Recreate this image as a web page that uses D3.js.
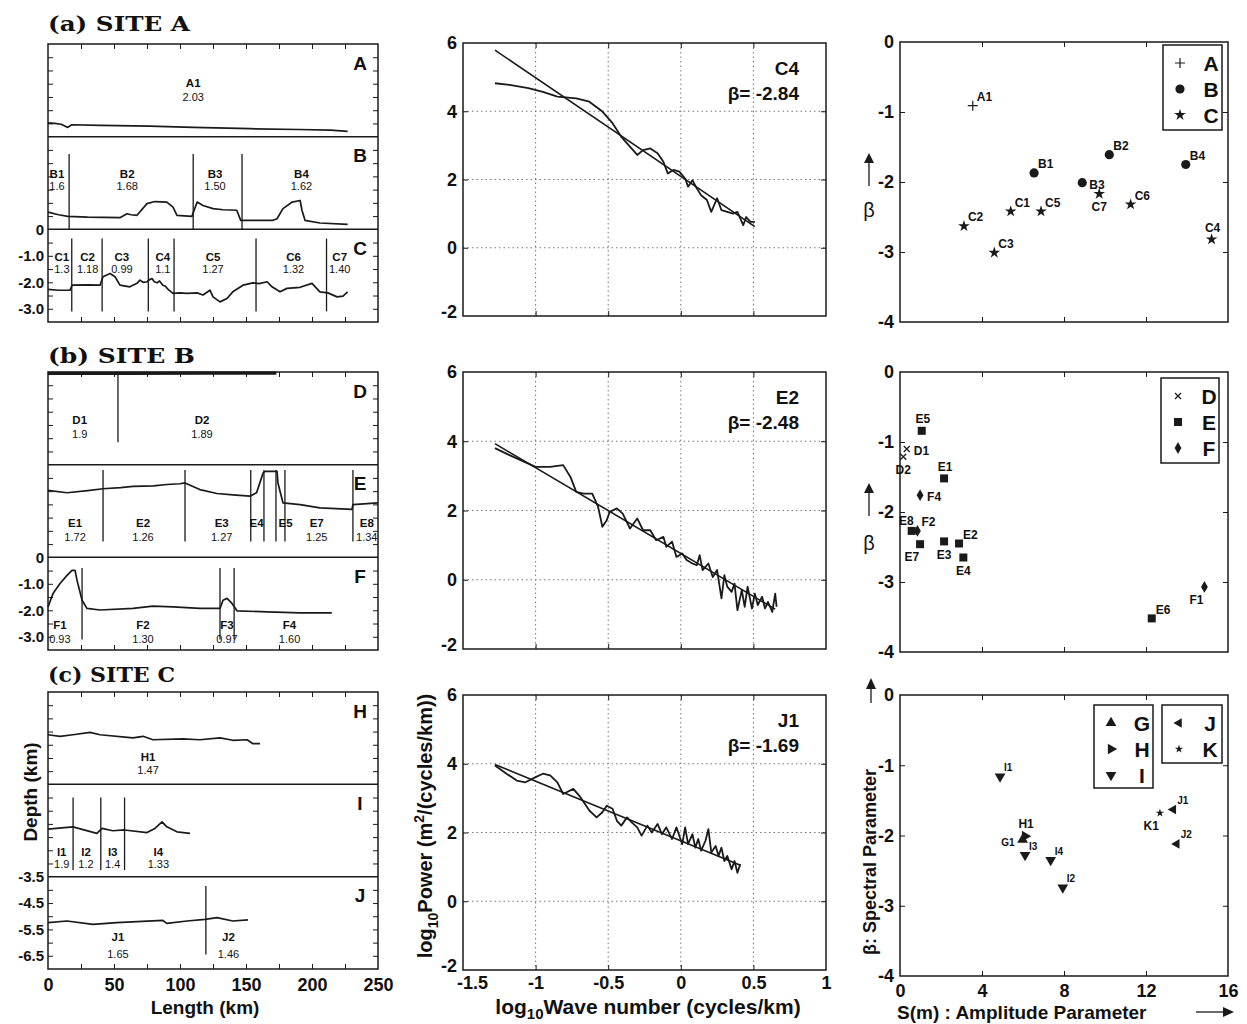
<!DOCTYPE html>
<html>
<head>
<meta charset="utf-8">
<script src="https://d3js.org/d3.v7.min.js"></script>
<style>
  body { margin: 0; background: #fff; }
  svg { display: block; }
  text { font-family: "Liberation Sans", Arial, sans-serif; fill: #111; }
</style>
</head>
<body>
<svg id="fig" width="1247" height="1024"></svg>
<script>
// ---------- depth profiles: [length km, depth km] ----------
const profA = [[0,-2.98],[5,-3.0],[10,-3.03],[15,-3.15],[18,-3.05],[40,-3.07],[77,-3.10],[110,-3.15],[153,-3.20],[190,-3.23],[214,-3.25],[227,-3.30]];
const profB = [[0,-2.85],[8,-2.95],[15,-3.01],[30,-3.04],[54.5,-3.06],[59.8,-2.91],[63,-2.95],[67.4,-2.97],[75,-2.53],[81,-2.45],[90,-2.47],[94.7,-2.66],[97.7,-2.97],[109,-3.01],[113,-2.47],[117.4,-2.60],[125,-2.72],[132.6,-2.76],[143,-2.78],[146,-3.16],[170.5,-3.16],[173.5,-3.10],[178,-2.72],[185,-2.47],[191,-2.41],[192.4,-2.78],[194.7,-3.16],[206,-3.26],[227,-3.31]];
const profC = [[0,-2.27],[8,-2.30],[16.7,-2.30],[18.2,-2.11],[30,-2.10],[39.4,-2.11],[41.7,-1.79],[47,-1.67],[50.8,-1.79],[54.5,-2.11],[62,-2.17],[67.4,-2.04],[69.7,-1.92],[72,-2.0],[75,-1.98],[77,-1.90],[78.8,-1.86],[80.5,-1.98],[82.6,-2.02],[84.5,-1.95],[87,-2.11],[89,-2.15],[91,-2.27],[94.7,-2.42],[100,-2.40],[105.3,-2.42],[113,-2.40],[117.4,-2.48],[122.7,-2.30],[125,-2.55],[130.3,-2.74],[135.6,-2.61],[140,-2.36],[147.7,-2.11],[155.3,-2.02],[160,-2.05],[166,-1.98],[169.7,-2.17],[175.8,-2.36],[181,-2.23],[191,-2.19],[200,-2.04],[206,-2.36],[212,-2.40],[219,-2.55],[223.5,-2.52],[227,-2.36]];
const profD = [[0,-0.05],[60,-0.05],[120,-0.04],[173,-0.04]];
const profE = [[0,-0.97],[14.4,-1.06],[30,-0.98],[41.7,-0.91],[55,-0.87],[64.4,-0.82],[80,-0.80],[90,-0.75],[100,-0.72],[103.8,-0.69],[115,-0.94],[128,-1.09],[140,-1.14],[153,-1.19],[158,-1.06],[163,-0.31],[164.4,-0.25],[173.5,-0.25],[174.2,-0.69],[178,-1.44],[191,-1.51],[206,-1.63],[230.3,-1.69],[231,-1.51],[250,-1.44]];
const profF = [[0,-1.87],[3.8,-1.37],[9.1,-0.99],[14.4,-0.68],[18.2,-0.49],[20.5,-0.49],[22,-0.87],[25.8,-1.62],[29.5,-1.93],[39.4,-1.99],[64.4,-1.93],[79.5,-1.84],[94.7,-1.87],[115,-1.93],[130.3,-1.93],[132.6,-1.62],[135.6,-1.55],[139.4,-1.74],[143.2,-2.02],[166,-2.06],[191,-2.10],[215,-2.10]];
const profH = [[0,-1.62],[9.1,-1.68],[18.9,-1.62],[31.8,-1.53],[39.4,-1.62],[64.4,-1.74],[72,-1.68],[79.5,-1.81],[102,-1.78],[115,-1.81],[130.3,-1.74],[140,-1.83],[150.8,-1.81],[155.3,-1.96],[160.6,-1.96]];
const profI = [[0,-1.70],[18.9,-1.61],[37,-1.86],[41,-1.67],[49,-1.76],[58,-1.73],[75,-1.83],[81,-1.67],[86.4,-1.42],[90,-1.61],[97.7,-1.80],[107.6,-1.86]];
const profJ = [[0,-5.24],[14.4,-5.18],[34,-5.31],[52,-5.24],[87,-5.16],[90,-5.27],[105.3,-5.18],[119,-5.12],[128,-5.05],[140,-5.18],[151.5,-5.14]];

// ---------- segments: boundaries (km), label names, label centres (km), values ----------
const segA_bounds = [];                        const segA_names = ['A1'];
const segA_at = [110];                         const segA_vals = ['2.03'];
const segB_bounds = [16, 110, 147];            const segB_names = ['B1','B2','B3','B4'];
const segB_at = [6.8, 60, 126.5, 192];         const segB_vals = ['1.6','1.68','1.50','1.62'];
const segC_bounds = [18, 41, 76, 95.5, 157.6, 211];
const segC_names = ['C1','C2','C3','C4','C5','C6','C7'];
const segC_at = [10.5, 30, 56, 87, 125, 186, 221];
const segC_vals = ['1.3','1.18','0.99','1.1','1.27','1.32','1.40'];
const segD_bounds = [53];                      const segD_names = ['D1','D2'];
const segD_at = [24, 116.7];                   const segD_vals = ['1.9','1.89'];
const segE_bounds = [41.7, 103.8, 153.6, 163.6, 172.7, 179.5, 231];
const segE_names = ['E1','E2','E3','E4','E5','E7','E8'];
const segE_at = [20.5, 72, 131.6, 158, 180, 203.6, 241.5];
const segE_vals = ['1.72','1.26','1.27','','','1.25','1.34'];
const segF_bounds = [25.8, 130.3, 141];        const segF_names = ['F1','F2','F3','F4'];
const segF_at = [9, 72, 135.6, 183];           const segF_vals = ['0.93','1.30','0.97','1.60'];
const segH_bounds = [];                        const segH_names = ['H1'];
const segH_at = [75.8];                        const segH_vals = ['1.47'];
const segI_bounds = [19, 40, 58];              const segI_names = ['I1','I2','I3','I4'];
const segI_at = [10.4, 28.8, 49, 83.6];        const segI_vals = ['1.9','1.2','1.4','1.33'];
const segJ_bounds = [119.6];                   const segJ_names = ['J1','J2'];
const segJ_at = [53, 136.7];                   const segJ_vals = ['1.65','1.46'];

const lengthTicks = [0, 50, 100, 150, 200, 250];
const depthTicksAB = [0, -1, -2, -3];
const depthTicksC = [-3.5, -4.5, -5.5, -6.5];

// ---------- power spectra: log10 wave number, log10 power ----------
const spec1_k = [-1.28,-1.18,-1.05,-0.95,-0.85,-0.72,-0.63,-0.54,-0.47,-0.41,-0.37,-0.30,-0.26,-0.21,-0.16,-0.12,-0.09,-0.05,-0.01,0.03,0.05,0.08,0.11,0.14,0.18,0.21,0.25,0.28,0.32,0.36,0.39,0.43,0.45,0.48,0.51];
const spec1_p = [4.82,4.77,4.68,4.57,4.43,4.38,4.28,3.99,3.65,3.25,3.06,2.72,2.86,2.91,2.77,2.52,2.18,2.28,2.23,2.03,1.79,1.98,1.74,1.54,1.40,1.05,1.45,1.10,1.05,1.00,1.05,0.66,0.90,0.76,0.76];
const fit1_k = [-1.28, 0.51];  const fit1_p = [5.79, 0.62];

const spec2_k = [-1.28,-1.18,-1.0,-0.90,-0.81,-0.76,-0.72,-0.67,-0.61,-0.57,-0.54,-0.51,-0.49,-0.44,-0.40,-0.35,-0.30,-0.26,-0.21,-0.17,-0.12,-0.10,-0.06,-0.03,0.01,0.04,0.08,0.11,0.13,0.15,0.19,0.22,0.25,0.28,0.30,0.32,0.35,0.37,0.39,0.42,0.44,0.46,0.49,0.51,0.53,0.56,0.58,0.60,0.63,0.65,0.66];
const spec2_p = [3.80,3.60,3.26,3.26,3.31,2.97,2.54,2.49,2.49,2.11,1.53,1.72,1.96,2.06,1.91,1.48,1.77,1.43,1.43,1.14,1.24,0.95,1.10,0.66,0.76,0.57,0.47,0.42,0.71,0.28,0.47,0.08,0.28,-0.54,0.13,-0.20,-0.35,-0.11,-0.88,-0.30,-0.78,-0.20,-0.83,-0.40,-0.73,-0.49,-0.83,-0.64,-0.93,-0.40,-0.78];
const fit2_k = [-1.28, 0.65];  const fit2_p = [3.93, -0.85];

const spec3_k = [-1.28,-1.20,-1.13,-1.07,-1.00,-0.95,-0.90,-0.85,-0.81,-0.74,-0.69,-0.63,-0.58,-0.54,-0.51,-0.47,-0.44,-0.41,-0.37,-0.34,-0.30,-0.27,-0.23,-0.20,-0.16,-0.13,-0.10,-0.06,-0.03,0.01,0.03,0.05,0.08,0.10,0.12,0.14,0.17,0.19,0.21,0.24,0.26,0.28,0.30,0.32,0.35,0.37,0.39,0.41];
const spec3_p = [3.95,3.71,3.51,3.46,3.61,3.71,3.66,3.46,3.12,3.27,3.02,2.64,2.44,2.59,2.78,2.69,2.34,2.20,2.44,2.30,2.15,1.91,2.20,2.00,2.25,1.95,2.15,1.81,2.15,1.66,2.15,1.66,1.95,1.56,1.81,1.47,1.76,2.10,1.42,1.61,1.32,1.56,1.17,1.32,0.93,1.17,0.83,1.08];
const fit3_k = [-1.28, 0.41];  const fit3_p = [3.98, 1.05];

const waveTicks = [-1.5, -1, -0.5, 0, 0.5, 1];
const powerTicks = [-2, 0, 2, 4, 6];

// ---------- amplitude parameter S (m) vs spectral parameter beta ----------
const sc1_names = ['A1','B1','B2','B3','B4','C1','C2','C3','C4','C5','C6','C7'];
const sc1_S     = [3.55, 6.54, 10.21, 8.89, 13.94, 5.40, 3.12, 4.60, 15.2, 6.88, 11.25, 9.72];
const sc1_beta  = [-0.91, -1.87, -1.61, -2.01, -1.75, -2.42, -2.63, -3.01, -2.82, -2.42, -2.32, -2.17];
const sc2_names = ['E5','D1','D2','E1','F4','E8','F2','E7','E3','E2','E4','E6','F1'];
const sc2_S     = [1.06, 0.33, 0.16, 2.15, 0.98, 0.57, 0.85, 0.98, 2.15, 2.88, 3.09, 12.28, 14.85];
const sc2_beta  = [-0.84, -1.10, -1.21, -1.52, -1.76, -2.27, -2.27, -2.46, -2.42, -2.45, -2.65, -3.52, -3.07];
const sc3_names = ['I1','H1','G1','I3','I4','I2','K1','J1','J2'];
const sc3_S     = [4.88, 6.1, 5.98, 6.1, 7.35, 7.94, 12.68, 13.33, 13.5];
const sc3_beta  = [-1.16, -2.01, -2.06, -2.28, -2.35, -2.74, -1.68, -1.63, -2.12];
const sTicks = [0, 4, 8, 12, 16];
const betaTicks = [0, -1, -2, -3, -4];

// label placement codes (layout only)
const sc1_place = ['ne','ne','ne','e','ne','ne','ne','ne','n','ne','ne','s'];
const sc2_place = ['n','e','s','n','e','nw','ne','sw','s','ne','s','ne','sw'];
const sc3_place = ['ne','n','w','ne','ne','ne','sw','ne','ne'];

// ======================================================================
const svg = d3.select('#fig');
const INK = '#1a1a1a';
const BOLD = 'bold';

function styleAxisText(g, size) {
  g.select('.domain').remove();
  g.selectAll('text')
    .attr('font-size', size)
    .attr('font-weight', BOLD)
    .attr('fill', '#111');
}
function innerTicks(g) {
  g.select('.domain').remove();
  g.selectAll('line').attr('stroke', INK).attr('stroke-width', 1);
}

// ---------------- left column: depth profiles ----------------
const xKm = d3.scaleLinear().domain([0, 250]).range([48, 378]);

const sub = (letter, prof, bounds, names, at, vals, dom, nameY, valY, lineTop, lineBot) =>
  ({ letter, prof, bounds, names, at, vals, dom, nameY, valY, lineTop, lineBot });

const leftCfg = [
  { top: 44, bottom: 322, title: '(a)  SITE A', tw: 142, ty: 31, ticks: depthTicksAB,
    subs: [sub('A', profA, segA_bounds, segA_names, segA_at, segA_vals, [0, -3.5], 39, 53, -0.5, -3.5),
           sub('B', profB, segB_bounds, segB_names, segB_at, segB_vals, [0, -3.5], 37, 49, -0.65, -3.5),
           sub('C', profC, segC_bounds, segC_names, segC_at, segC_vals, [0, -3.5], 28, 40, -0.35, -3.1)] },
  { top: 372, bottom: 650, title: '(b)  SITE B', tw: 147, ty: 363, ticks: depthTicksAB,
    subs: [sub('D', profD, segD_bounds, segD_names, segD_at, segD_vals, [0, -3.5], 48, 62, 0, -2.65),
           sub('E', profE, segE_bounds, segE_names, segE_at, segE_vals, [0, -3.5], 58, 72, -0.2, -2.9),
           sub('F', profF, segF_bounds, segF_names, segF_at, segF_vals, [0, -3.5], 68, 82, -0.4, -3.1)] },
  { top: 692, bottom: 969, title: '(c)  SITE C', tw: 127, ty: 682, ticks: depthTicksC, xAxis: true,
    subs: [sub('H', profH, segH_bounds, segH_names, segH_at, segH_vals, [0, -3.5], 65, 78, 0, 0),
           sub('I', profI, segI_bounds, segI_names, segI_at, segI_vals, [0, -3.5], 68, 80, -0.5, -3.25),
           sub('J', profJ, segJ_bounds, segJ_names, segJ_at, segJ_vals, [-3.5, -7.0], 60, 77, -3.85, -6.45)] }
];

leftCfg.forEach(p => {
  svg.append('text').attr('x', 48).attr('y', p.ty)
    .style('font-family', '"DejaVu Serif", "Liberation Serif", serif')
    .attr('font-weight', 'bold').attr('font-size', 21)
    .attr('textLength', p.tw).attr('lengthAdjust', 'spacingAndGlyphs')
    .text(p.title);

  const h = (p.bottom - p.top) / 3;
  p.subs.forEach((s, i) => {
    const t = p.top + i * h, b = t + h;
    const y = d3.scaleLinear().domain(s.dom).range([t, b]);
    const g = svg.append('g');
    const minor = d3.range(1, 7).map(j => s.dom[0] - 0.5 * j);

    g.append('g').attr('transform', `translate(${xKm.range()[0]},0)`)
      .call(d3.axisLeft(y).tickValues(minor).tickSize(-5).tickFormat('')).call(innerTicks);
    g.append('g').attr('transform', `translate(${xKm.range()[1]},0)`)
      .call(d3.axisRight(y).tickValues(minor).tickSize(-5).tickFormat('')).call(innerTicks);

    // profile
    g.append('path').datum(s.prof)
      .attr('d', d3.line().x(d => xKm(d[0])).y(d => y(d[1])))
      .attr('fill', 'none').attr('stroke', INK)
      .attr('stroke-width', s.letter === 'D' ? 3.2 : 1.7).attr('stroke-linejoin', 'round');

    // segment boundaries
    g.selectAll('line.seg').data(s.bounds).join('line').attr('class', 'seg')
      .attr('x1', d => xKm(d)).attr('x2', d => xKm(d))
      .attr('y1', y(s.lineTop)).attr('y2', y(s.lineBot))
      .attr('stroke', INK).attr('stroke-width', 1.3);

    // segment names + values
    g.selectAll('text.nm').data(s.names).join('text').attr('class', 'nm')
      .attr('x', (d, j) => xKm(s.at[j])).attr('y', t + s.nameY).attr('dy', '0.35em')
      .attr('text-anchor', 'middle').attr('font-size', 11.5).attr('font-weight', BOLD)
      .attr('fill', '#222').text(d => d);
    g.selectAll('text.vl').data(s.vals).join('text').attr('class', 'vl')
      .attr('x', (d, j) => xKm(s.at[j])).attr('y', t + s.valY).attr('dy', '0.35em')
      .attr('text-anchor', 'middle').attr('font-size', 11).attr('fill', '#444').text(d => d);

    g.append('text').attr('x', 360).attr('y', t + 19).attr('dy', '0.35em')
      .attr('text-anchor', 'middle').attr('font-size', 19).attr('font-weight', BOLD).text(s.letter);

    if (i === 2) {
      g.append('g').attr('transform', `translate(${xKm.range()[0]},0)`)
        .call(d3.axisLeft(y).tickValues(p.ticks).tickSize(0).tickPadding(4)
          .tickFormat(d => d === 0 ? '0' : d.toFixed(1)))
        .call(a => styleAxisText(a, 15));
    }
  });

  // x ticks top and bottom every 25 km
  const xt = d3.range(25, 250, 25);
  svg.append('g').attr('transform', `translate(0,${p.bottom})`)
    .call(d3.axisBottom(xKm).tickValues(xt).tickSize(-5).tickFormat('')).call(innerTicks);
  svg.append('g').attr('transform', `translate(0,${p.top})`)
    .call(d3.axisTop(xKm).tickValues(xt).tickSize(-5).tickFormat('')).call(innerTicks);

  // frame and separators
  svg.append('rect').attr('x', 48).attr('y', p.top).attr('width', 330).attr('height', p.bottom - p.top)
    .attr('fill', 'none').attr('stroke', INK).attr('stroke-width', 1.5);
  [1, 2].forEach(k => svg.append('line').attr('x1', 48).attr('x2', 378)
    .attr('y1', p.top + k * h).attr('y2', p.top + k * h).attr('stroke', INK).attr('stroke-width', 1.5));

  if (p.xAxis) {
    svg.append('g').attr('transform', `translate(0,${p.bottom})`)
      .call(d3.axisBottom(xKm).tickValues(lengthTicks).tickSize(0).tickPadding(9))
      .call(a => styleAxisText(a, 18));
  }
});

svg.append('text').attr('x', 205).attr('y', 1007).attr('dy', '0.35em').attr('text-anchor', 'middle')
  .attr('font-size', 19).attr('font-weight', BOLD).text('Length (km)');
svg.append('text').attr('transform', 'translate(30,792) rotate(-90)').attr('dy', '0.35em')
  .attr('text-anchor', 'middle').attr('font-size', 19).attr('font-weight', BOLD).text('Depth (km)');

// ---------------- middle column: power spectra ----------------
const xWave = d3.scaleLinear().domain([-1.5, 1]).range([463, 826]);
const specCfg = [
  { top: 43, bottom: 316, k: spec1_k, p: spec1_p, fk: fit1_k, fp: fit1_p, name: 'C4', beta: 'β= -2.84' },
  { top: 372, bottom: 649, k: spec2_k, p: spec2_p, fk: fit2_k, fp: fit2_p, name: 'E2', beta: 'β= -2.48' },
  { top: 695, bottom: 970, k: spec3_k, p: spec3_p, fk: fit3_k, fp: fit3_p, name: 'J1', beta: 'β= -1.69', xAxis: true }
];

specCfg.forEach(c => {
  const y = d3.scaleLinear().domain([-2, 6]).range([c.bottom, c.top]);
  const g = svg.append('g');
  const gx = [-1, -0.5, 0, 0.5], gy = [0, 2, 4];

  g.selectAll('line.gx').data(gx).join('line').attr('class', 'gx')
    .attr('x1', d => xWave(d)).attr('x2', d => xWave(d)).attr('y1', c.top).attr('y2', c.bottom)
    .attr('stroke', '#777').attr('stroke-width', 1).attr('stroke-dasharray', '1.5,3');
  g.selectAll('line.gy').data(gy).join('line').attr('class', 'gy')
    .attr('y1', d => y(d)).attr('y2', d => y(d)).attr('x1', xWave(-1.5)).attr('x2', xWave(1))
    .attr('stroke', '#777').attr('stroke-width', 1).attr('stroke-dasharray', '1.5,3');

  g.append('g').attr('transform', `translate(0,${c.bottom})`)
    .call(d3.axisBottom(xWave).tickValues(gx).tickSize(-5).tickFormat('')).call(innerTicks);
  g.append('g').attr('transform', `translate(0,${c.top})`)
    .call(d3.axisTop(xWave).tickValues(gx).tickSize(-5).tickFormat('')).call(innerTicks);
  g.append('g').attr('transform', `translate(${xWave(-1.5)},0)`)
    .call(d3.axisLeft(y).tickValues(gy).tickSize(-5).tickFormat('')).call(innerTicks);
  g.append('g').attr('transform', `translate(${xWave(1)},0)`)
    .call(d3.axisRight(y).tickValues(gy).tickSize(-5).tickFormat('')).call(innerTicks);

  const line = d3.line().x(d => xWave(d[0])).y(d => y(d[1]));
  g.append('path').datum(c.fk.map((v, i) => [v, c.fp[i]])).attr('d', line)
    .attr('fill', 'none').attr('stroke', INK).attr('stroke-width', 1.6);
  g.append('path').datum(c.k.map((v, i) => [v, c.p[i]])).attr('d', line)
    .attr('fill', 'none').attr('stroke', INK).attr('stroke-width', 1.8).attr('stroke-linejoin', 'round');

  g.append('rect').attr('x', xWave(-1.5)).attr('y', c.top)
    .attr('width', xWave(1) - xWave(-1.5)).attr('height', c.bottom - c.top)
    .attr('fill', 'none').attr('stroke', INK).attr('stroke-width', 1.5);

  g.append('g').attr('transform', `translate(${xWave(-1.5)},0)`)
    .call(d3.axisLeft(y).tickValues(powerTicks).tickSize(0).tickPadding(6).tickFormat(d => String(d)))
    .call(a => styleAxisText(a, 18))
    .call(a => a.selectAll('.tick').filter(d => d === -2).select('text').attr('dy', '0.1em'));

  g.append('text').attr('x', 799).attr('y', c.top + 25).attr('dy', '0.35em').attr('text-anchor', 'end')
    .attr('font-size', 19).attr('font-weight', BOLD).text(c.name);
  g.append('text').attr('x', 799).attr('y', c.top + 50).attr('dy', '0.35em').attr('text-anchor', 'end')
    .attr('font-size', 19).attr('font-weight', BOLD).text(c.beta);

  if (c.xAxis) {
    g.append('g').attr('transform', `translate(0,${c.bottom})`)
      .call(d3.axisBottom(xWave).tickValues(waveTicks).tickSize(0).tickPadding(6).tickFormat(d => String(d)))
      .call(a => styleAxisText(a, 18))
      .call(a => a.selectAll('.tick').filter(d => d === -1.5).select('text').attr('dx', 9));
  }
});

const xl = svg.append('text').attr('x', 648).attr('y', 1014).attr('text-anchor', 'middle')
  .attr('font-size', 21).attr('font-weight', BOLD);
xl.append('tspan').text('log');
xl.append('tspan').attr('dy', 5).attr('font-size', 15).text('10');
xl.append('tspan').attr('dy', -5).text('Wave number (cycles/km)');

const yl = svg.append('text').attr('transform', 'translate(432,826) rotate(-90)').attr('text-anchor', 'middle')
  .attr('font-size', 20).attr('font-weight', BOLD);
yl.append('tspan').text('log');
yl.append('tspan').attr('dy', 6).attr('font-size', 14).text('10');
yl.append('tspan').attr('dy', -6).text('Power (m');
yl.append('tspan').attr('dy', -8).attr('font-size', 14).text('2');
yl.append('tspan').attr('dy', 8).text('/(cycles/km))');

// ---------------- right column: beta vs S ----------------
const xS = d3.scaleLinear().domain([0, 16]).range([900, 1228]);

function marker(g, type, cx, cy, scale = 1) {
  const m = g.append('g').attr('transform', `translate(${cx},${cy}) scale(${scale})`);
  const sym = (t, size, rot = 0) => m.append('path')
    .attr('d', d3.symbol(t, size)()).attr('transform', `rotate(${rot})`).attr('fill', INK);
  switch (type) {
    case 'A': m.append('path').attr('d', 'M-5,0H5M0,-5V5').attr('stroke', INK).attr('stroke-width', 1.2); break;
    case 'B': m.append('circle').attr('r', 4.6).attr('fill', INK); break;
    case 'C': sym(d3.symbolStar, 42); break;
    case 'D': m.append('path').attr('d', 'M-3,-3L3,3M-3,3L3,-3').attr('stroke', INK).attr('stroke-width', 1.3); break;
    case 'E': m.append('rect').attr('x', -4).attr('y', -4).attr('width', 8).attr('height', 8).attr('fill', INK); break;
    case 'F': sym(d3.symbolDiamond, 40); break;
    case 'G': sym(d3.symbolTriangle, 50, 0); break;
    case 'H': sym(d3.symbolTriangle, 50, 90); break;
    case 'I': sym(d3.symbolTriangle, 50, 180); break;
    case 'J': sym(d3.symbolTriangle, 40, 270); break;
    case 'K': sym(d3.symbolStar, 22); break;
  }
}

const placeOff = {
  ne: [4, -9, 'start'], e: [7, 2, 'start'], n: [1, -12, 'middle'], s: [0, 13, 'middle'],
  sw: [-1, 13, 'end'], nw: [2, -10, 'end'], w: [-8, 3, 'end']
};

const scCfg = [
  { top: 42, bottom: 322, names: sc1_names, S: sc1_S, B: sc1_beta, place: sc1_place,
    legends: [{ x: 1163, y: 45, w: 59, h: 85, keys: ['A', 'B', 'C'] }], arrowY: 153, betaY: 210 },
  { top: 372, bottom: 652, names: sc2_names, S: sc2_S, B: sc2_beta, place: sc2_place,
    legends: [{ x: 1161, y: 378, w: 58, h: 85, keys: ['D', 'E', 'F'] }], arrowY: 483, betaY: 543 },
  { top: 695, bottom: 976, names: sc3_names, S: sc3_S, B: sc3_beta, place: sc3_place,
    legends: [{ x: 1094, y: 705, w: 59, h: 83, keys: ['G', 'H', 'I'] },
              { x: 1162, y: 705, w: 60, h: 58, keys: ['J', 'K'] }], xAxis: true }
];

scCfg.forEach((c, ci) => {
  const y = d3.scaleLinear().domain([-4, 0]).range([c.bottom, c.top]);
  const g = svg.append('g');
  const tx = [4, 8, 12], ty = [-1, -2, -3];

  g.append('g').attr('transform', `translate(0,${c.bottom})`)
    .call(d3.axisBottom(xS).tickValues(tx).tickSize(-5).tickFormat('')).call(innerTicks);
  g.append('g').attr('transform', `translate(0,${c.top})`)
    .call(d3.axisTop(xS).tickValues(tx).tickSize(-5).tickFormat('')).call(innerTicks);
  g.append('g').attr('transform', `translate(${xS(0)},0)`)
    .call(d3.axisLeft(y).tickValues(ty).tickSize(-5).tickFormat('')).call(innerTicks);
  g.append('g').attr('transform', `translate(${xS(16)},0)`)
    .call(d3.axisRight(y).tickValues(ty).tickSize(-5).tickFormat('')).call(innerTicks);

  g.append('rect').attr('x', xS(0)).attr('y', c.top).attr('width', xS(16) - xS(0))
    .attr('height', c.bottom - c.top).attr('fill', 'none').attr('stroke', INK).attr('stroke-width', 1.5);

  c.names.forEach((n, i) => {
    const px = xS(c.S[i]), py = y(c.B[i]);
    marker(g, n[0], px, py);
    const o = placeOff[c.place[i]];
    const small = ci === 2 && n !== 'H1' && n !== 'K1';
    g.append('text').attr('x', px + o[0]).attr('y', py + o[1]).attr('dy', '0.35em')
      .attr('text-anchor', o[2]).attr('font-size', small ? 10 : 12).attr('font-weight', BOLD)
      .attr('fill', '#222').text(n);
  });

  c.legends.forEach(L => {
    g.append('rect').attr('x', L.x).attr('y', L.y).attr('width', L.w).attr('height', L.h)
      .attr('fill', '#fff').attr('stroke', INK).attr('stroke-width', 1.5);
    L.keys.forEach((k, j) => {
      const ly = L.y + 18 + j * 26;
      marker(g, k, L.x + 17, ly);
      g.append('text').attr('x', L.x + 48).attr('y', ly).attr('dy', '0.36em').attr('text-anchor', 'middle')
        .attr('font-size', 21).attr('font-weight', BOLD).text(k);
    });
  });

  g.append('g').attr('transform', `translate(${xS(0)},0)`)
    .call(d3.axisLeft(y).tickValues(betaTicks).tickSize(0).tickPadding(6).tickFormat(d => String(d)))
    .call(a => styleAxisText(a, 18));

  if (c.arrowY) {
    g.append('line').attr('x1', 869).attr('x2', 869).attr('y1', c.arrowY + 33).attr('y2', c.arrowY + 8)
      .attr('stroke', INK).attr('stroke-width', 1.3);
    g.append('path').attr('d', `M864,${c.arrowY + 10}L869,${c.arrowY}L874,${c.arrowY + 10}Z`).attr('fill', INK);
    g.append('text').attr('x', 869).attr('y', c.betaY).attr('dy', '0.35em').attr('text-anchor', 'middle')
      .attr('font-size', 20).text('β');
  }

  if (c.xAxis) {
    g.append('g').attr('transform', `translate(0,${c.bottom})`)
      .call(d3.axisBottom(xS).tickValues(sTicks).tickSize(0).tickPadding(8).tickFormat(d => String(d)))
      .call(a => styleAxisText(a, 18));
  }
});

svg.append('text').attr('transform', 'translate(870,862) rotate(-90)').attr('dy', '0.35em')
  .attr('text-anchor', 'middle').attr('font-size', 18).attr('font-weight', BOLD).text('β: Spectral Parameter');
svg.append('line').attr('x1', 871).attr('x2', 871).attr('y1', 703).attr('y2', 686).attr('stroke', INK).attr('stroke-width', 1.3);
svg.append('path').attr('d', 'M866,689L871,678L876,689Z').attr('fill', INK);
svg.append('text').attr('x', 897).attr('y', 1012).attr('dy', '0.35em').attr('font-size', 19)
  .attr('font-weight', BOLD).text('S(m) : Amplitude Parameter');
svg.append('line').attr('x1', 1196).attr('x2', 1226).attr('y1', 1012).attr('y2', 1012).attr('stroke', INK).attr('stroke-width', 1.3);
svg.append('path').attr('d', 'M1223,1007L1234,1012L1223,1017Z').attr('fill', INK);
</script>
</body>
</html>
